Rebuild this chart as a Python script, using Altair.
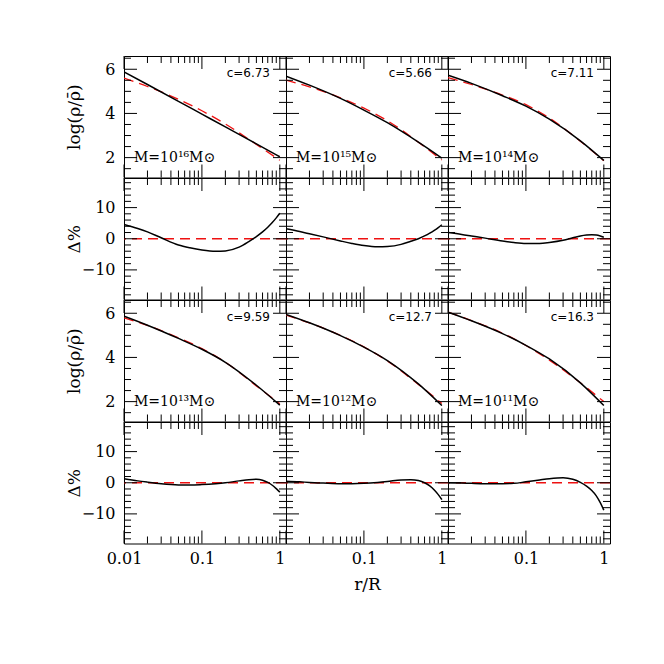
import altair as alt
import pandas as pd

# ---------------- data ----------------
X_PROFILE = [0.01, 0.02, 0.05, 0.1, 0.2, 0.5, 1.0]
X_DELTA = [0.01, 0.015, 0.02, 0.03, 0.05, 0.07, 0.1, 0.15, 0.2, 0.3,
           0.4, 0.5, 0.6, 0.7, 0.8, 0.9, 1.0]

MASS_LABELS = ["M=10¹⁶M⊙", "M=10¹⁵M⊙", "M=10¹⁴M⊙",
               "M=10¹³M⊙", "M=10¹²M⊙", "M=10¹¹M⊙"]
CONC_LABELS = ["c=6.73", "c=5.66", "c=7.11", "c=9.59", "c=12.7", "c=16.3"]

SIM_16 = [5.88, 5.31, 4.55, 3.97, 3.39, 2.62, 2.04]
FIT_16 = [5.60, 5.22, 4.64, 4.12, 3.52, 2.60, 1.88]
DELTA_16 = [4.6, 3.3, 2.2, 0.3, -2.0, -2.9, -3.6, -4.0, -3.9, -2.7,
            -0.9, 0.7, 2.2, 3.7, 5.2, 6.7, 8.2]

SIM_15 = [5.69, 5.28, 4.68, 4.15, 3.58, 2.70, 1.98]
FIT_15 = [5.51, 5.20, 4.71, 4.24, 3.67, 2.70, 1.89]
DELTA_15 = [3.2, 2.3, 1.6, 0.6, -0.7, -1.5, -2.2, -2.6, -2.5, -1.8,
            -0.8, 0.0, 0.9, 1.8, 2.7, 3.6, 4.5]

SIM_14 = [5.73, 5.36, 4.80, 4.33, 3.74, 2.76, 1.87]
FIT_14 = [5.62, 5.31, 4.83, 4.40, 3.79, 2.74, 1.86]
DELTA_14 = [2.0, 1.4, 0.9, 0.2, -0.7, -1.2, -1.5, -1.5, -1.2, -0.5,
            0.3, 0.9, 1.2, 1.3, 1.2, 0.9, 0.5]

SIM_13 = [5.87, 5.46, 4.86, 4.37, 3.78, 2.74, 1.84]
FIT_13 = [5.79, 5.45, 4.89, 4.40, 3.78, 2.71, 1.90]
DELTA_13 = [1.3, 0.6, 0.2, -0.3, -0.7, -0.75, -0.6, -0.3, 0.0, 0.6,
            1.0, 1.1, 0.8, 0.1, -0.8, -1.9, -3.0]

SIM_12 = [5.95, 5.57, 4.99, 4.47, 3.86, 2.80, 1.82]
FIT_12 = [5.92, 5.56, 5.00, 4.48, 3.84, 2.78, 1.92]
DELTA_12 = [0.5, 0.3, 0.1, -0.1, -0.3, -0.3, -0.2, 0.1, 0.4, 0.9,
            1.0, 0.7, 0.0, -1.0, -2.3, -3.8, -5.4]

SIM_11 = [6.05, 5.66, 5.08, 4.55, 3.93, 2.85, 1.82]
FIT_11 = [6.05, 5.67, 5.10, 4.54, 3.88, 2.85, 2.00]
DELTA_11 = [0.0, -0.1, -0.2, -0.3, -0.3, -0.2, 0.3, 0.9, 1.3, 1.6,
            1.1, 0.1, -1.1, -2.5, -4.2, -6.4, -8.8]

X_MAJOR = [0.01, 0.1, 1.0]
X_MINOR = [0.02, 0.03, 0.04, 0.05, 0.06, 0.07, 0.08, 0.09,
           0.2, 0.3, 0.4, 0.5, 0.6, 0.7, 0.8, 0.9]
X_LABELS_FIRST = [0.01, 0.1, 1]
X_LABELS_OTHER = [0.1, 1]
Y_PROF_MAJOR = [2, 4, 6]
Y_PROF_MINOR = [1.5, 2.5, 3, 3.5, 4.5, 5, 5.5, 6.5]
Y_DELTA_MAJOR = [-10, 0, 10]
Y_DELTA_MINOR = [-18, -16, -14, -12, -8, -6, -4, -2, 2, 4, 6, 8, 12, 14, 16, 18]
ZERO_LINE = [0]

SIMS = [SIM_16, SIM_15, SIM_14, SIM_13, SIM_12, SIM_11]
FITS = [FIT_16, FIT_15, FIT_14, FIT_13, FIT_12, FIT_11]
DELTAS = [DELTA_16, DELTA_15, DELTA_14, DELTA_13, DELTA_12, DELTA_11]

# ---------------- styling ----------------
W, H = 162, 121.5
MAJ, MIN = 13, 7
SERIF = "DejaVu Serif"
RED = "#ee1111"
XSCALE = alt.Scale(type="log", domain=[0.01, 1.2], nice=False)
YPROF = alt.Scale(domain=[1.1, 6.6], nice=False, zero=False)
YDELTA = alt.Scale(domain=[-19.5, 19.5], nice=False, zero=False)


def y_axis(values, title):
    return alt.Axis(values=values, ticks=False, domain=False, grid=False,
                    labelFont=SERIF, labelFontSize=16, labelColor="black",
                    labelPadding=9, labelFlush=False, minExtent=32, maxExtent=32,
                    title=title, titleFont=SERIF, titleFontSize=17,
                    titleFontWeight="normal", titleColor="black", titlePadding=9)


def x_axis(values, title):
    return alt.Axis(values=values, format="~g", ticks=False, domain=False, grid=False,
                    labelFont=SERIF, labelFontSize=16, labelColor="black",
                    labelPadding=7, labelFlush=False, labelOverlap=False,
                    title=title, titleFont=SERIF, titleFontSize=17,
                    titleFontWeight="normal", titleColor="black", titlePadding=10)


def enc_x(xaxis):
    if xaxis is None:
        return alt.X("x:Q", scale=XSCALE, axis=None)
    return alt.X("x:Q", scale=XSCALE, axis=xaxis)


def enc_y(field, yscale, yaxis):
    if yaxis is None:
        return alt.Y(field, scale=yscale, axis=None)
    return alt.Y(field, scale=yscale, axis=yaxis)


def tick_layers(yscale, ymaj, ymin, xaxis, yaxis):
    layers = []
    for vals, L in ((X_MAJOR, MAJ), (X_MINOR, MIN)):
        base = alt.Chart(pd.DataFrame({"x": vals})).mark_rule(color="black", strokeWidth=1)
        xe = enc_x(xaxis)
        layers.append(base.encode(x=xe, y=alt.value(0), y2=alt.value(L)))
        layers.append(base.encode(x=xe, y=alt.value(H), y2=alt.value(H - L)))
    for vals, L in ((ymaj, MAJ), (ymin, MIN)):
        base = alt.Chart(pd.DataFrame({"y": vals})).mark_rule(color="black", strokeWidth=1)
        ye = enc_y("y:Q", yscale, yaxis)
        layers.append(base.encode(y=ye, x=alt.value(0), x2=alt.value(L)))
        layers.append(base.encode(y=ye, x=alt.value(W), x2=alt.value(W - L)))
    return layers


def profile_panel(i, col):
    xaxis = None
    yaxis = y_axis(Y_PROF_MAJOR, "log(ρ/ρ̄)") if col == 0 else None
    sim = pd.DataFrame({"x": X_PROFILE, "y": SIMS[i]})
    fit = pd.DataFrame({"x": X_PROFILE, "y": FITS[i]})
    fit_l = alt.Chart(fit).mark_line(color=RED, strokeWidth=1.3, strokeDash=[10, 6],
                                     interpolate="monotone", clip=True).encode(
        x=enc_x(xaxis), y=enc_y("y:Q", YPROF, yaxis))
    sim_l = alt.Chart(sim).mark_line(color="black", strokeWidth=1.5,
                                     interpolate="monotone", clip=True).encode(
        x=enc_x(xaxis), y=enc_y("y:Q", YPROF, yaxis))
    c_txt = alt.Chart(pd.DataFrame({"t": [CONC_LABELS[i]]})).mark_text(
        font="DejaVu Sans", fontSize=12, align="right", baseline="middle", color="black"
    ).encode(x=alt.value(W - 16), y=alt.value(17), text="t:N")
    m_txt = alt.Chart(pd.DataFrame({"t": [MASS_LABELS[i]]})).mark_text(
        font=SERIF, fontSize=14, align="left", baseline="middle", color="black"
    ).encode(x=alt.value(10), y=alt.value(H - 20), text="t:N")
    return alt.layer(fit_l, sim_l,
                     *tick_layers(YPROF, Y_PROF_MAJOR, Y_PROF_MINOR, xaxis, yaxis),
                     c_txt, m_txt).properties(width=W, height=H)


def delta_panel(i, col, bottom):
    yaxis = y_axis(Y_DELTA_MAJOR, "Δ%") if col == 0 else None
    if bottom:
        vals = X_LABELS_FIRST if col == 0 else X_LABELS_OTHER
        xaxis = x_axis(vals, "r/R" if col == 1 else "")
    else:
        xaxis = None
    d = pd.DataFrame({"x": X_DELTA, "y": DELTAS[i]})
    zero = alt.Chart(pd.DataFrame({"y": ZERO_LINE})).mark_rule(
        color=RED, strokeWidth=1.3, strokeDash=[10, 6]).encode(
        y=enc_y("y:Q", YDELTA, yaxis))
    line = alt.Chart(d).mark_line(color="black", strokeWidth=1.5,
                                  interpolate="monotone", clip=True).encode(
        x=enc_x(xaxis), y=enc_y("y:Q", YDELTA, yaxis))
    return alt.layer(zero, line,
                     *tick_layers(YDELTA, Y_DELTA_MAJOR, Y_DELTA_MINOR, xaxis, yaxis)
                     ).properties(width=W, height=H)


panels = []
for block in range(2):
    for col in range(3):
        panels.append(profile_panel(block * 3 + col, col))
    for col in range(3):
        panels.append(delta_panel(block * 3 + col, col, bottom=(block == 1)))

chart = alt.concat(*panels, columns=3, spacing=0, bounds="flush").properties(
    padding={"left": 56, "top": 47, "right": 5, "bottom": 5}
).configure_view(stroke="black", strokeWidth=1)

chart.save("out.html", embed_options={"renderer": "svg", "actions": False})
